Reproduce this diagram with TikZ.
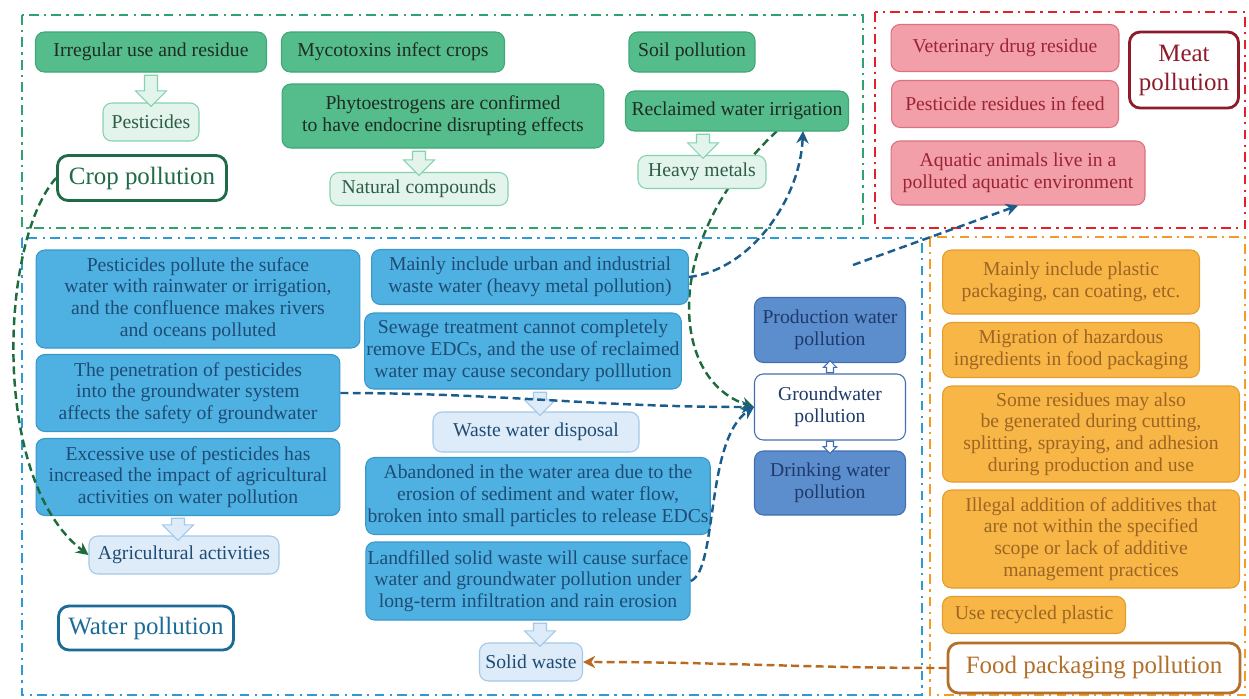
\documentclass[tikz,border=0pt]{standalone}
\usepackage{fontspec}
\setmainfont{Liberation Serif}
\usepackage{tikz}
\usetikzlibrary{arrows.meta, shapes.arrows, backgrounds}

\definecolor{cropdark}{HTML}{55BD8B}
\definecolor{cropdarkline}{HTML}{3FA775}
\definecolor{croplight}{HTML}{E2F4EB}
\definecolor{croplightline}{HTML}{86D2AE}
\definecolor{croptext}{HTML}{1F2B25}
\definecolor{croplighttext}{HTML}{2F5C47}
\definecolor{cropframe}{HTML}{2FA36F}
\definecolor{croptitle}{HTML}{1E6B45}
\definecolor{meatfill}{HTML}{F29FA9}
\definecolor{meatline}{HTML}{D9727F}
\definecolor{meattext}{HTML}{9A2434}
\definecolor{meatframe}{HTML}{E3212B}
\definecolor{meattitle}{HTML}{8E1B2A}
\definecolor{waterfill}{HTML}{4EB1E2}
\definecolor{waterline}{HTML}{3A98C8}
\definecolor{watertext}{HTML}{1E4C75}
\definecolor{waterlight}{HTML}{DDECF8}
\definecolor{waterlightline}{HTML}{A3C8EA}
\definecolor{waterdark}{HTML}{5C8DCC}
\definecolor{waterdarkline}{HTML}{416FB1}
\definecolor{waterdarktext}{HTML}{1E3A6B}
\definecolor{waterframe}{HTML}{2C9AD6}
\definecolor{watertitle}{HTML}{1B6B97}
\definecolor{foodfill}{HTML}{F8B647}
\definecolor{foodline}{HTML}{E39C2E}
\definecolor{foodtext}{HTML}{9C6524}
\definecolor{foodframe}{HTML}{F39B26}
\definecolor{foodtitle}{HTML}{B2702A}
\definecolor{greenlink}{HTML}{1E6B3E}
\definecolor{bluelink}{HTML}{1A5D8C}
\definecolor{brownlink}{HTML}{B86A20}

\begin{document}
\begin{tikzpicture}[
    x=0.02cm, y=-0.02cm,
    box/.style={draw, rounded corners=5pt, align=center, inner sep=1pt, line width=0.6pt, font=\fontsize{11.2}{12.4}\selectfont},
    cropbox/.style={box, fill=cropdark, draw=cropdarkline, text=croptext},
    croplow/.style={box, fill=croplight, draw=croplightline, text=croplighttext},
    meatbox/.style={box, fill=meatfill, draw=meatline, text=meattext},
    waterbox/.style={box, fill=waterfill, draw=waterline, text=watertext},
    waterlow/.style={box, fill=waterlight, draw=waterlightline, text=watertext},
    waterdeep/.style={box, fill=waterdark, draw=waterdarkline, text=waterdarktext},
    foodbox/.style={box, fill=foodfill, draw=foodline, text=foodtext},
    title/.style={draw, fill=white, rounded corners=6pt, line width=1.6pt, align=center, inner sep=1pt, font=\fontsize{14.2}{16.5}\selectfont},
    frame/.style={line width=1.5pt, dash pattern=on 5.5pt off 3pt on 1.3pt off 3pt},
    flow/.style={single arrow, rotate=-90, inner sep=0pt, inner ysep=3.4pt, single arrow head extend=5.1pt, single arrow head indent=0pt, line width=0.6pt},
    smallflow/.style={flow, inner ysep=1.7pt, single arrow head extend=1.8pt, minimum height=0.24cm, fill=white, draw=waterdarkline},
    link/.style={line width=1.4pt, dash pattern=on 4.5pt off 2.5pt, -{Stealth[length=7pt,width=7pt]}},
]
  \useasboundingbox (0,0) rectangle (1249,698);

  \draw[frame, cropframe] (22,15) rectangle (863,228);
  \draw[frame, meatframe] (875,12) rectangle (1245,228);
  \draw[frame, waterframe] (22,238) rectangle (922,695);
  \draw[frame, foodframe] (930,237) rectangle (1245,695);

  \node[cropbox, minimum width=4.62cm, minimum height=0.8cm] (irr) at (151,52) {Irregular use and residue};
  \node[croplow, minimum width=1.92cm, minimum height=0.76cm] (pest) at (151,122) {Pesticides};
  \node[title, draw=croptitle, text=croptitle, minimum width=3.38cm, minimum height=0.9cm] (croppol) at (142,178) {Crop pollution};
  \node[cropbox, minimum width=4.46cm, minimum height=0.8cm] (myco) at (393,52) {Mycotoxins infect crops};
  \node[cropbox, minimum width=6.44cm, minimum height=1.28cm] (phyto) at (443,116) {Phytoestrogens are confirmed\\to have endocrine disrupting effects};
  \node[croplow, minimum width=3.56cm, minimum height=0.66cm] (natural) at (419,189) {Natural compounds};
  \node[cropbox, minimum width=2.52cm, minimum height=0.8cm] (soil) at (692,52) {Soil pollution};
  \node[cropbox, minimum width=4.46cm, minimum height=0.8cm] (recl) at (737,111) {Reclaimed water irrigation};
  \node[croplow, minimum width=2.56cm, minimum height=0.66cm] (heavy) at (702,172) {Heavy metals};

  \node[meatbox, minimum width=4.56cm, minimum height=0.94cm] (vet) at (1005,48) {Veterinary drug residue};
  \node[meatbox, minimum width=4.54cm, minimum height=0.94cm] (feed) at (1005,104) {Pesticide residues in feed};
  \node[meatbox, minimum width=5.08cm, minimum height=1.28cm] (aquatic) at (1018,173) {Aquatic animals live in a\\polluted aquatic environment};
  \node[title, draw=meattitle, text=meattitle, minimum width=2.18cm, minimum height=1.52cm] (meatpol) at (1184,70) {Meat\\pollution};

  \node[waterbox, minimum width=6.48cm, minimum height=1.96cm] (surface) at (198,299) {Pesticides pollute the suface\\water with rainwater or irrigation,\\and the confluence makes rivers\\and oceans polluted};
  \node[waterbox, minimum width=6.08cm, minimum height=1.54cm] (penetr) at (188,393) {The penetration of pesticides\\into the groundwater system\\affects the safety of groundwater};
  \node[waterbox, minimum width=6.08cm, minimum height=1.54cm] (excess) at (188,477) {Excessive use of pesticides has\\increased the impact of agricultural\\activities on water pollution};
  \node[waterlow, minimum width=3.8cm, minimum height=0.76cm] (agri) at (184,555) {Agricultural activities};
  \node[title, draw=watertitle, text=watertitle, minimum width=3.5cm, minimum height=0.88cm] (waterpol) at (146,628) {Water pollution};
  \node[waterbox, minimum width=6.34cm, minimum height=1.1cm] (urban) at (530,277) {Mainly include urban and industrial\\waste water (heavy metal pollution)};
  \node[waterbox, minimum width=6.24cm, minimum height=1.52cm] (sewage) at (523,351) {Sewage treatment cannot completely\\remove EDCs, and the use of reclaimed\\water may cause secondary polllution};
  \node[waterlow, minimum width=4.12cm, minimum height=0.8cm] (wwd) at (536,432) {Waste water disposal};
  \node[waterbox, minimum width=6.86cm, minimum height=1.54cm] (aband) at (538,496) {Abandoned in the water area due to the\\erosion of sediment and water flow,\\broken into small particles to release EDCs};
  \node[waterbox, minimum width=6.42cm, minimum height=1.56cm] (landf) at (528,581) {Landfilled solid waste will cause surface\\water and groundwater pollution under\\long-term infiltration and rain erosion};
  \node[waterlow, minimum width=2.06cm, minimum height=0.76cm] (solid) at (531,662) {Solid waste};
  \node[waterdeep, minimum width=3.02cm, minimum height=1.3cm] (prod) at (830,330) {Production water\\pollution};
  \node[box, fill=white, draw=waterdarkline, text=waterdarktext, minimum width=3.02cm, minimum height=1.32cm] (ground) at (830,407) {Groundwater\\pollution};
  \node[waterdeep, minimum width=3.02cm, minimum height=1.28cm] (drink) at (830,483) {Drinking water\\pollution};

  \node[foodbox, minimum width=5.14cm, minimum height=1.28cm] (plastic) at (1071,282) {Mainly include plastic\\packaging, can coating, etc.};
  \node[foodbox, minimum width=5.14cm, minimum height=1.1cm] (migr) at (1071,350) {Migration of hazardous\\ingredients in food packaging};
  \node[foodbox, minimum width=5.94cm, minimum height=1.92cm] (resid) at (1091,434) {Some residues may also\\be generated during cutting,\\splitting, spraying, and adhesion\\during production and use};
  \node[foodbox, minimum width=5.94cm, minimum height=1.96cm] (illegal) at (1091,539) {Illegal addition of additives that\\are not within the specified\\scope or lack of additive\\management practices};
  \node[foodbox, minimum width=3.66cm, minimum height=0.74cm] (recyc) at (1034,615) {Use recycled plastic};
  \node[title, draw=foodtitle, text=foodtitle, minimum width=5.84cm, minimum height=1.0cm] (foodpol) at (1094,668) {Food packaging pollution};

  \node[flow, fill=croplight, draw=croplightline, minimum height=0.62cm] (irrpest) at (151,87.5) {};
  \node[flow, fill=croplight, draw=croplightline, minimum height=0.48cm] (phytonat) at (419,160) {};
  \node[flow, fill=croplight, draw=croplightline, minimum height=0.48cm] (reclheavy) at (703,143) {};
  \node[flow, fill=waterlight, draw=waterlightline, minimum height=0.44cm] (excessagri) at (178,526) {};
  \node[flow, fill=waterlight, draw=waterlightline, minimum height=0.46cm] (sewagewwd) at (540,400.5) {};
  \node[flow, fill=waterlight, draw=waterlightline, minimum height=0.46cm] (landfsolid) at (540,631.5) {};
  \node[smallflow, rotate=180] (groundprod) at (830,368.5) {};
  \node[smallflow] (grounddrink) at (830,445.5) {};

  \coordinate (aqstart) at (853,265);

  \begin{scope}[on background layer]
    \draw[link, greenlink] (777,131) .. controls (660,240) and (670,380) .. (ground.west);
  \end{scope}
  \draw[link, greenlink] (croppol.west) .. controls (0,240) and (-10,480) .. (agri.west);
  \draw[link, bluelink] (urban.east) .. controls (750,270) and (800,200) .. (803,131);
  \draw[link, bluelink] (penetr.east) to[out=0, in=180] (ground.west);
  \draw[link, bluelink] (landf.east) .. controls (718,570) and (705,440) .. (ground.west);
  \draw[link, bluelink] (aqstart) -- (aquatic.south);
  \draw[link, brownlink] (foodpol.west) to[out=180, in=0] (solid.east);
\end{tikzpicture}
\end{document}
